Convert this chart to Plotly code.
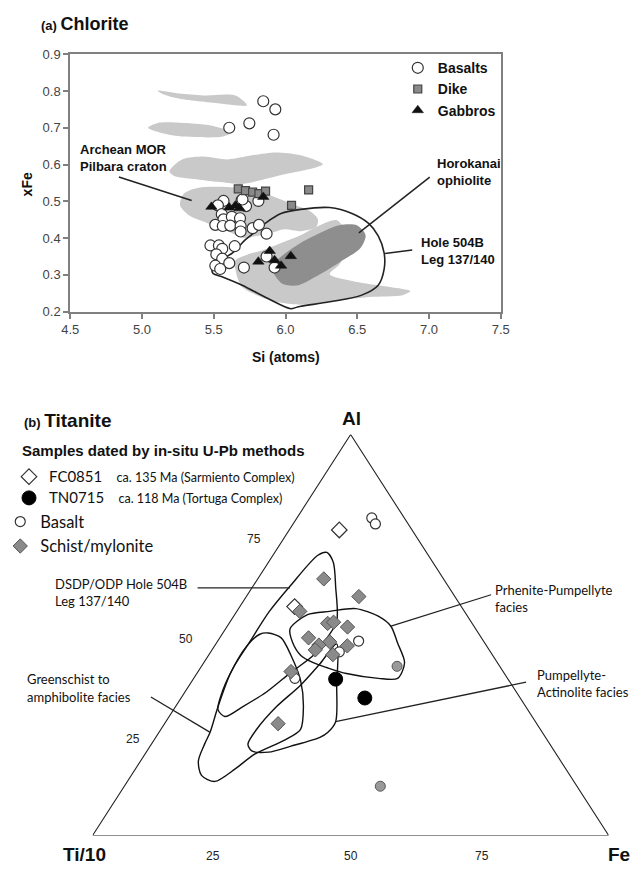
import plotly.graph_objects as go

W, H = 641, 875

# ---------------- (a) Chlorite : Si (atoms) vs xFe ----------------
basalt_si = [5.845, 5.929, 5.748, 5.608, 5.917,
             5.568, 5.529, 5.694, 5.725, 5.811, 5.556, 5.568, 5.626, 5.683,
             5.511, 5.563, 5.615, 5.687, 5.687, 5.771, 5.815, 5.868,
             5.477, 5.536, 5.559, 5.646, 5.518, 5.559, 5.608, 5.511, 5.545,
             5.710, 5.868, 5.924, 5.70]
basalt_xfe = [0.772, 0.750, 0.712, 0.700, 0.681,
              0.501, 0.489, 0.503, 0.487, 0.501, 0.465, 0.451, 0.458, 0.454,
              0.436, 0.433, 0.434, 0.433, 0.418, 0.427, 0.436, 0.412,
              0.380, 0.380, 0.371, 0.378, 0.356, 0.344, 0.332, 0.325, 0.316,
              0.320, 0.350, 0.320, 0.505]

dike_si = [5.671, 5.721, 5.771, 5.815, 5.861, 6.042, 6.161]
dike_xfe = [0.534, 0.529, 0.525, 0.521, 0.528, 0.489, 0.531]

gabbro_si = [5.484, 5.608, 5.680, 5.650, 5.845, 5.890, 5.811, 5.924, 5.969, 6.037]
gabbro_xfe = [0.485, 0.483, 0.481, 0.488, 0.512, 0.365, 0.336, 0.340, 0.325, 0.351]

# Archean MOR, Pilbara craton fields
pilbara_1_si = [5.109, 5.258, 5.428, 5.651, 5.732, 5.543, 5.245, 5.136]
pilbara_1_xfe = [0.801, 0.793, 0.788, 0.788, 0.761, 0.766, 0.780, 0.793]
pilbara_2_si = [5.042, 5.109, 5.292, 5.448, 5.543, 5.631, 5.563, 5.292, 5.136]
pilbara_2_xfe = [0.700, 0.713, 0.713, 0.708, 0.700, 0.689, 0.676, 0.676, 0.686]
pilbara_3_si = [5.191, 5.279, 5.428, 5.597, 5.766, 5.935, 6.105, 6.260, 6.138,
                6.003, 5.834, 5.698, 5.529, 5.360, 5.224]
pilbara_3_xfe = [0.582, 0.614, 0.622, 0.614, 0.625, 0.633, 0.625, 0.601, 0.585,
                 0.574, 0.558, 0.547, 0.553, 0.561, 0.569]
pilbara_4_si = [5.265, 5.292, 5.394, 5.597, 5.766, 5.901, 6.037, 6.172, 6.226,
                6.213, 6.105, 5.990, 5.901, 5.800, 5.719, 5.597, 5.461, 5.326]
pilbara_4_xfe = [0.489, 0.521, 0.537, 0.539, 0.531, 0.515, 0.494, 0.473, 0.451,
                 0.430, 0.419, 0.424, 0.414, 0.406, 0.400, 0.419, 0.440, 0.462]
pilbara_5_si = [5.651, 5.732, 5.847, 5.969, 6.105, 6.240, 6.362, 6.443, 6.375,
                6.308, 6.511, 6.728, 6.870, 6.816, 6.579, 6.308, 6.105, 5.935,
                5.800, 5.698, 5.658]
pilbara_5_xfe = [0.339, 0.355, 0.368, 0.387, 0.408, 0.435, 0.448, 0.387, 0.328,
                 0.302, 0.280, 0.267, 0.256, 0.245, 0.240, 0.227, 0.219, 0.227,
                 0.245, 0.267, 0.302]
pilbara_fields = [(pilbara_1_si, pilbara_1_xfe), (pilbara_2_si, pilbara_2_xfe),
                  (pilbara_3_si, pilbara_3_xfe), (pilbara_4_si, pilbara_4_xfe),
                  (pilbara_5_si, pilbara_5_xfe)]

# Horokanai ophiolite field
horokanai_si = [5.915, 6.003, 6.105, 6.240, 6.375, 6.497, 6.558, 6.524, 6.375,
                6.206, 6.091, 5.983, 5.922]
horokanai_xfe = [0.328, 0.360, 0.387, 0.414, 0.435, 0.435, 0.408, 0.374, 0.334,
                 0.294, 0.272, 0.275, 0.302]

# Hole 504B, Leg 137/140 envelope
hole504b_si = [5.488, 5.529, 5.631, 5.719, 5.786, 5.868, 5.969, 6.105, 6.308,
               6.463, 6.579, 6.646, 6.687, 6.687, 6.646, 6.531, 6.308, 6.084,
               6.037, 5.881, 5.698, 5.563, 5.495, 5.488]
hole504b_xfe = [0.312, 0.334, 0.360, 0.395, 0.416, 0.443, 0.467, 0.478, 0.483,
                0.467, 0.440, 0.406, 0.360, 0.315, 0.272, 0.245, 0.227, 0.213,
                0.208, 0.235, 0.272, 0.294, 0.304, 0.312]

# ---------------- (b) Titanite : Al - Ti/10 - Fe (%) ----------------
fc0851_al = [76.2, 57.1]
fc0851_fe = [9.7, 10.6]
tn0715_al = [39.0, 34.3]
tn0715_fe = [27.6, 35.6]
basalt_t_al = [79.2, 77.7, 48.5, 45.8, 39.2]
basalt_t_fe = [14.5, 15.95, 27.3, 24.9, 19.6]
other_al = [42.2, 12.3]
other_fe = [37.9, 49.6]
schist_al = [64.0, 59.6, 55.9, 52.9, 53.2, 52.0, 49.3, 48.3, 47.5, 46.3, 47.3,
             45.1, 40.9, 27.9]
schist_fe = [12.8, 21.8, 12.2, 19.1, 20.1, 23.4, 17.2, 21.8, 20.1, 20.0, 25.7,
             24.0, 18.0, 22.0]

# facies / reference fields (closed outlines)
hole504b_t_al = [70.6, 68.1, 62.0, 53.4, 48.5, 44.9, 40.7, 35.8, 32.1, 29.7,
                 31.4, 36.3, 42.4, 48.0, 55.9, 62.5, 69.9, 70.6]
hole504b_t_fe = [10.1, 12.6, 16.1, 20.6, 20.75, 20.3, 18.1, 15.8, 13.0, 10.8,
                 8.6, 7.1, 6.3, 6.3, 6.3, 7.2, 8.7, 10.1]
greenschist_al = [50.5, 49.3, 44.9, 38.7, 32.1, 26.5, 24.0, 20.3, 16.7, 13.5,
                  15.0, 18.6, 22.8, 25.7, 32.1, 40.4, 47.3, 50.2, 50.5]
greenschist_fe = [8.8, 11.9, 16.0, 20.95, 24.8, 27.05, 25.5, 21.25, 19.35, 16.95,
                  13.6, 11.2, 10.3, 9.9, 8.25, 6.5, 6.25, 7.3, 8.8]
prehnite_al = [51.5, 55.1, 55.9, 56.6, 54.7, 52.2, 48.0, 43.1, 39.2, 39.2, 40.4,
               41.9, 43.1, 44.9, 48.0, 51.5]
prehnite_fe = [12.5, 14.1, 18.0, 22.7, 28.0, 31.7, 35.1, 38.9, 39.5, 35.8, 29.0,
               24.4, 21.2, 17.9, 14.8, 12.5]
pumpact_al = [47.8, 37.5, 28.4, 25.7, 24.5, 22.3, 20.8, 21.1, 22.8, 26.5, 32.1,
              37.5, 42.9, 47.8]
pumpact_fe = [23.4, 28.55, 32.9, 32.7, 31.8, 27.3, 23.7, 20.3, 18.7, 18.55, 19.55,
              21.55, 22.65, 23.4]

vertex_al = [0, 0, 100, 0]
vertex_fe = [0, 100, 0, 0]
tern_ticks = [25, 50, 75]


def tern_xy(al, fe):
    """Project Al / Fe percentages onto the triangle plane (Ti/10 = remainder)."""
    xs = [(f + a / 2.0) / 100.0 for a, f in zip(al, fe)]
    ys = [a / 100.0 for a in al]
    return xs, ys


def px(x, y):
    return x / W, 1 - y / H


fig = go.Figure()

LIGHT = "#c9c9c9"
DARK = "#8e8e8e"

for si, xfe in pilbara_fields:
    fig.add_trace(go.Scatter(x=si + si[:1], y=xfe + xfe[:1], mode="lines",
                             line=dict(shape="spline", smoothing=0.8, width=0, color=LIGHT),
                             fill="toself", fillcolor=LIGHT, showlegend=False,
                             hoverinfo="skip", xaxis="x", yaxis="y"))
fig.add_trace(go.Scatter(x=horokanai_si + horokanai_si[:1], y=horokanai_xfe + horokanai_xfe[:1],
                         mode="lines", line=dict(shape="spline", smoothing=0.8, width=0, color=DARK),
                         fill="toself", fillcolor=DARK, showlegend=False, hoverinfo="skip"))
fig.add_trace(go.Scatter(x=hole504b_si, y=hole504b_xfe, mode="lines",
                         line=dict(shape="spline", smoothing=0.9, width=1.6, color="#222"),
                         showlegend=False, hoverinfo="skip"))

fig.add_trace(go.Scatter(x=basalt_si, y=basalt_xfe, mode="markers", name="<b>Basalts</b>",
                         marker=dict(symbol="circle", size=11, color="white",
                                     line=dict(color="#333", width=1.2)),
                         legend="legend"))
fig.add_trace(go.Scatter(x=dike_si, y=dike_xfe, mode="markers", name="<b>Dike</b>",
                         marker=dict(symbol="square", size=8, color="#8a8a8a",
                                     line=dict(color="#444", width=1.2)),
                         legend="legend"))
fig.add_trace(go.Scatter(x=gabbro_si, y=gabbro_xfe, mode="markers", name="<b>Gabbros</b>",
                         marker=dict(symbol="triangle-up", size=10, color="#111",
                                     line=dict(color="#111", width=0.5)),
                         legend="legend"))

# ---- ternary panel (drawn on its own hidden cartesian axes) ----
tx, ty = tern_xy(vertex_al, vertex_fe)
fig.add_trace(go.Scatter(x=tx, y=ty, mode="lines", line=dict(color="#222", width=1.1),
                         showlegend=False, hoverinfo="skip", cliponaxis=False,
                         xaxis="x2", yaxis="y2"))
for al, fe in [(hole504b_t_al, hole504b_t_fe), (greenschist_al, greenschist_fe),
               (prehnite_al, prehnite_fe), (pumpact_al, pumpact_fe)]:
    sx, sy = tern_xy(al, fe)
    fig.add_trace(go.Scatter(x=sx, y=sy, mode="lines",
                             line=dict(shape="spline", smoothing=0.8, color="#111", width=1.4),
                             showlegend=False, hoverinfo="skip", xaxis="x2", yaxis="y2"))

CODE = "<span style='font-size:15px'>%s</span>"
NOTE = "<span style='font-size:12.5px'>%s</span>"
GAP = "&nbsp;&nbsp;&nbsp;&nbsp;"
sx, sy = tern_xy(fc0851_al, fc0851_fe)
fig.add_trace(go.Scatter(x=sx, y=sy, mode="markers",
                         name=CODE % "FC0851" + GAP + NOTE % "ca. 135 Ma (Sarmiento Complex)",
                         marker=dict(symbol="diamond", size=12, color="white",
                                     line=dict(color="#333", width=1.2)),
                         xaxis="x2", yaxis="y2", legend="legend2"))
sx, sy = tern_xy(tn0715_al, tn0715_fe)
fig.add_trace(go.Scatter(x=sx, y=sy, mode="markers",
                         name=CODE % "TN0715" + GAP + NOTE % "ca. 118 Ma (Tortuga Complex)",
                         marker=dict(symbol="circle", size=14, color="black",
                                     line=dict(color="black", width=1)),
                         xaxis="x2", yaxis="y2", legend="legend2"))
sx, sy = tern_xy(basalt_t_al, basalt_t_fe)
fig.add_trace(go.Scatter(x=sx, y=sy, mode="markers", name="Basalt",
                         marker=dict(symbol="circle", size=10, color="white",
                                     line=dict(color="#333", width=1.2)),
                         xaxis="x2", yaxis="y2", legend="legend3"))
sx, sy = tern_xy(schist_al, schist_fe)
fig.add_trace(go.Scatter(x=sx, y=sy, mode="markers", name="Schist/mylonite",
                         marker=dict(symbol="diamond", size=11, color="#8a8a8a",
                                     line=dict(color="#555", width=1)),
                         xaxis="x2", yaxis="y2", legend="legend3"))
sx, sy = tern_xy(other_al, other_fe)
fig.add_trace(go.Scatter(x=sx, y=sy, mode="markers", showlegend=False,
                         marker=dict(symbol="circle", size=10, color="#9a9a9a",
                                     line=dict(color="#555", width=1)),
                         xaxis="x2", yaxis="y2"))

ARIAL = "Liberation Sans, Arial, sans-serif"
HUMAN = "Lato, Open Sans, sans-serif"

ann = []


def text(x, y, s, size=13, bold=False, family=ARIAL, xanchor="left", angle=0, color="#111"):
    xp, yp = px(x, y)
    if bold:
        s = "<b>%s</b>" % s
    ann.append(dict(x=xp, y=yp, xref="paper", yref="paper", text=s, showarrow=False,
                    xanchor=xanchor, yanchor="middle", textangle=angle, align="left",
                    font=dict(family=family, size=size, color=color)))


text(31, 17, "<span style='font-size:13px'>(a)</span> <span style='font-size:18px'>Chlorite</span>", bold=True)
text(18, 180, "xFe", size=14, bold=True, xanchor="center", angle=-90)
text(285, 356, "Si (atoms)", size=14, bold=True, xanchor="center")

# field labels, panel a
for (tx0, ty0, s) in [(4.555, 0.619, "Archean MOR<br>Pilbara craton"),
                      (7.04, 0.579, "Horokanai<br>ophiolite"),
                      (6.93, 0.366, "Hole 504B<br>Leg 137/140")]:
    ann.append(dict(x=tx0, y=ty0, xref="x", yref="y", text="<b>%s</b>" % s, showarrow=False,
                    xanchor="left", yanchor="middle", align="left",
                    font=dict(family=ARIAL, size=13, color="#111")))

shapes = []
for (x0, y0, x1, y1) in [(4.839, 0.566, 5.346, 0.502), (7.005, 0.566, 6.511, 0.414),
                         (6.883, 0.368, 6.694, 0.358)]:
    shapes.append(dict(type="line", xref="x", yref="y", x0=x0, y0=y0, x1=x1, y1=y1,
                       line=dict(color="#222", width=1.5)))

# panel b texts
text(13, 421, "<span style='font-size:13px'>(b)</span> <span style='font-size:19px'>Titanite</span>", bold=True)
text(11, 451, "Samples dated by in-situ U-Pb methods", size=15, bold=True)
text(352, 419, "Al", size=19, bold=True, xanchor="center")
text(78, 862, "Ti/10", size=19, bold=True, xanchor="center")
text(628, 862, "Fe", size=19, bold=True, xanchor="center")

for t, dx in zip(tern_ticks, [-24, -36, -32]):
    ex, ey = tern_xy([t], [0])
    ann.append(dict(x=ex[0], y=ey[0], xref="x2", yref="y2", text=str(t), showarrow=False,
                    xshift=dx, yshift=-4, font=dict(family=ARIAL, size=12, color="#222")))
for t, dx in zip(tern_ticks, [-9, 0, 2]):
    ex, ey = tern_xy([0], [t])
    ann.append(dict(x=ex[0], y=ey[0], xref="x2", yref="y2", text=str(t), showarrow=False,
                    xshift=dx, yshift=-20, font=dict(family=ARIAL, size=12, color="#222")))

FS = 13
text(45, 587, "DSDP/ODP Hole 504B", size=FS, family=HUMAN)
text(45, 604, "Leg 137/140", size=FS, family=HUMAN)
text(498, 593, "Prhenite-Pumpellyte", size=FS, family=HUMAN)
text(498, 610, "facies", size=FS, family=HUMAN)
text(16, 684, "Greenschist to", size=FS, family=HUMAN)
text(16, 702, "amphibolite facies", size=FS, family=HUMAN)
text(541, 680, "Pumpellyte-", size=FS, family=HUMAN)
text(541, 697, "Actinolite facies", size=FS, family=HUMAN)

for (x0, y0, x1, y1) in [(194, 591, 289, 591), (146, 702, 207, 738),
                         (393, 630, 496, 598), (336, 727, 532, 687)]:
    a0, b0 = px(x0, y0)
    a1, b1 = px(x1, y1)
    shapes.append(dict(type="line", xref="paper", yref="paper", x0=a0, y0=b0, x1=a1, y1=b1,
                       line=dict(color="#222", width=1.3)))

AX = dict(showline=True, linecolor="#808080", linewidth=2, mirror=True, ticks="outside",
          ticklen=5, tickcolor="#808080", tickwidth=1.5, showgrid=False, zeroline=False,
          tickfont=dict(family=ARIAL, size=13, color="#444"))

LEG = dict(xanchor="left", yanchor="top", bgcolor="rgba(0,0,0,0)", itemwidth=30)

fig.update_layout(
    width=W, height=H, margin=dict(l=0, r=0, t=0, b=0),
    paper_bgcolor="white", plot_bgcolor="white",
    xaxis=dict(domain=[63 / W, 506 / W], range=[4.5, 7.5], dtick=0.5, tickformat=".1f", **AX),
    yaxis=dict(domain=[1 - 310 / H, 1 - 48 / H], range=[0.2, 0.9], dtick=0.1, tickformat=".1f", **AX),
    xaxis2=dict(domain=[86 / W, 617 / W], range=[0, 1], visible=False, anchor="y2"),
    yaxis2=dict(domain=[1 - 843 / H, 1 - 435 / H], range=[0, 1], visible=False, anchor="x2"),
    legend=dict(x=400 / W, y=1 - 46 / H, font=dict(family=ARIAL, size=14, color="#111"),
                tracegroupgap=2, **LEG),
    legend2=dict(x=0, y=1 - 462 / H, font=dict(family=HUMAN, size=14, color="#111"), **LEG),
    legend3=dict(x=-9 / W, y=1 - 506 / H, font=dict(family=HUMAN, size=16.5, color="#111"), **LEG),
    annotations=ann, shapes=shapes, showlegend=True,
)

fig.write_html("out.html")
